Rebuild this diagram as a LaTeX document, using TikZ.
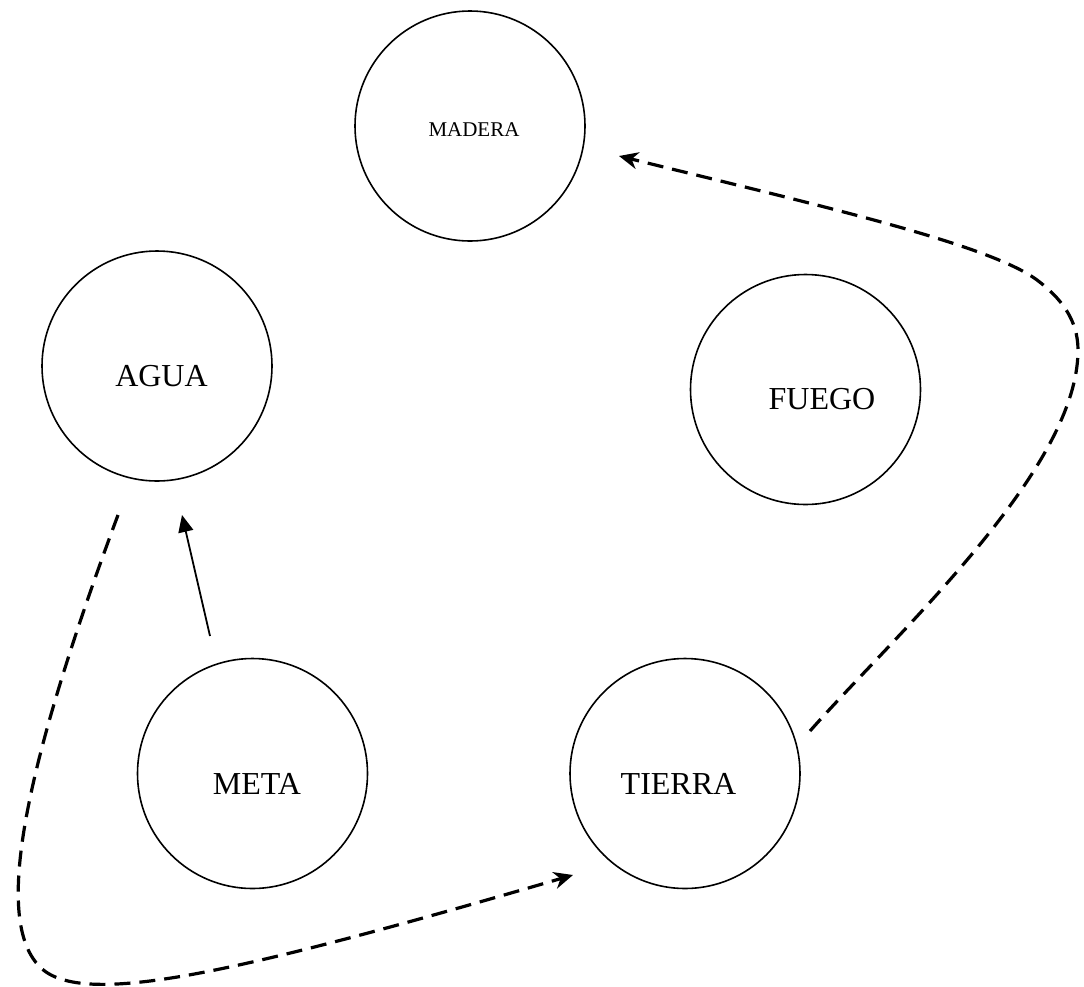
\documentclass[tikz,border=0pt]{standalone}
\usepackage{fontspec}
\setmainfont{Liberation Serif}
\usetikzlibrary{arrows.meta}
\begin{document}
\begin{tikzpicture}[x=1pt,y=-1pt,
  elem/.style={draw, circle, line width=1.6pt, minimum size=230pt, inner sep=0pt},
  lbl/.style={anchor=base, inner sep=0pt, font=\fontsize{32}{38}\selectfont},
  smalllbl/.style={anchor=base, inner sep=0pt, font=\fontsize{21}{25}\selectfont},
  flow/.style={line width=3.2pt, dash pattern=on 16pt off 9pt, -{Stealth[length=19pt,width=17pt,inset=6pt]}},
  link/.style={line width=1.8pt, -{Triangle[length=17pt,width=15pt]}}]
\useasboundingbox (0,0) rectangle (1084,986);

\node[elem] (madera) at (470,126) {};
\node[elem] (agua) at (157,366) {};
\node[elem] (fuego) at (805.5,389.5) {};
\node[elem] (meta) at (252.5,773.5) {};
\node[elem] (tierra) at (685,773.5) {};

\node[smalllbl] (maderat) at (474,136.5) {MADERA};
\node[lbl] (aguat) at (161.5,386) {AGUA};
\node[lbl] (fuegot) at (822,409) {FUEGO};
\node[lbl] (metat) at (257,794) {META};
\node[lbl] (tierrat) at (678.5,794) {TIERRA};

% solid arrow META -> AGUA
\coordinate (ms) at (210,636);
\coordinate (ae) at (182,515);
\draw[link] (ms) -- (ae);

% dashed AGUA -> TIERRA
\coordinate (as) at (118,515);
\coordinate (ac) at (40,967);
\coordinate (te) at (573,875);
\draw[flow] (as) .. controls (13,797) and (-2,925) .. (ac)
  .. controls (82,1009) and (237,973) .. (te);

% dashed TIERRA -> MADERA
\coordinate (ts) at (810,731);
\coordinate (tr) at (1078,350);
\coordinate (tc) at (1037,280);
\coordinate (me) at (619,156);
\draw[flow] (ts) .. controls (896,633.5) and (1078,470) .. (tr)
  .. controls (1078,320) and (1061,298) .. (tc)
  .. controls (989,244) and (813,204) .. (me);
\end{tikzpicture}
\end{document}
